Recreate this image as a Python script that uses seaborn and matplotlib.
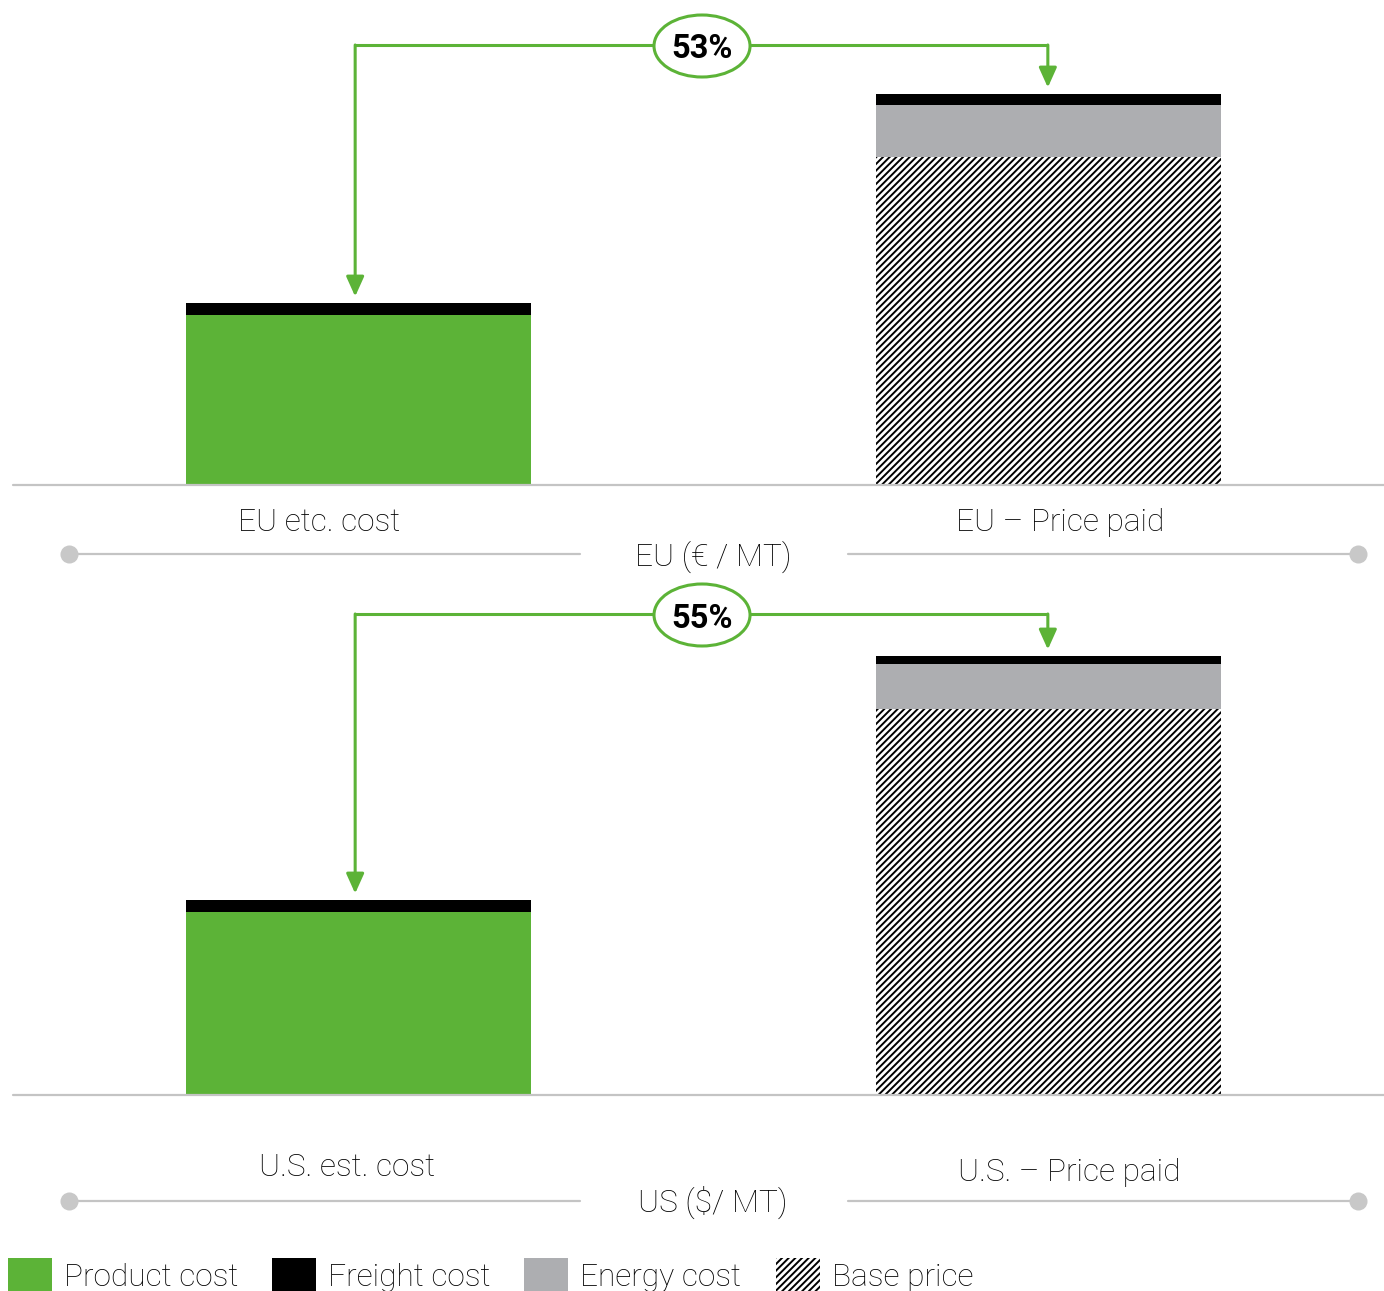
import matplotlib
matplotlib.use("Agg")
import matplotlib.pyplot as plt
import seaborn as sns
from matplotlib.patches import Ellipse, Rectangle

# ---------------- data ----------------
categories = ["cost", "price"]
eu_bar_labels = ["EU etc. cost", "EU – Price paid"]
us_bar_labels = ["U.S. est. cost", "U.S. – Price paid"]
# first value = product cost (cost bar), second = base price (price bar)
eu_base = [680, 1312]
eu_energy = [0, 208]
eu_freight = [48, 44]
us_base = [732, 1544]
us_energy = [0, 180]
us_freight = [48, 32]
pct_labels = ["53%", "55%"]
panel_titles = ["EU (€ / MT)", "US ($/ MT)"]
legend_labels = ["Product cost", "Freight cost", "Energy cost", "Base price"]

# ---------------- style ----------------
GREEN = "#5CB337"
GRAY = "#ADAEB1"
LINEGRAY = "#C4C4C4"
HATCH = "/////"
sns.set_theme(style="white")
plt.rcParams['font.family'] = ['Roboto', 'DejaVu Sans']
plt.rcParams['hatch.linewidth'] = 1.4

W, H, DPI = 1384, 1291, 100
fig = plt.figure(figsize=(W / DPI, H / DPI), dpi=DPI)
fig.patch.set_facecolor("white")

PXV = 4.0          # value units per pixel
AX_H = 485         # axes height in px
YMAX = AX_H * PXV


def fx(px):
    return px / W


def fy(px):
    return 1 - px / H


def draw_panel(base_px, base, energy, freight, pct, hline_px):
    ax = fig.add_axes([fx(13), fy(base_px), fx(1371), AX_H / H])
    mid = [b + e for b, e in zip(base, energy)]
    tot = [m + f for m, f in zip(mid, freight)]
    sns.barplot(x=categories, y=tot, color="black", width=0.5, saturation=1,
                linewidth=0, ax=ax)
    sns.barplot(x=categories, y=mid, color=GRAY, width=0.5, saturation=1,
                linewidth=0, ax=ax)
    sns.barplot(x=categories, y=base, color=GREEN, width=0.5, saturation=1,
                linewidth=0, ax=ax)
    hatched = ax.patches[-1]
    hatched.set_facecolor("white")
    hatched.set_edgecolor("black")
    hatched.set_hatch(HATCH)
    hatched.set_linewidth(0)
    ax.set_xlim(-0.5007, 1.4855)
    ax.set_ylim(0, YMAX)
    ax.set_axis_off()
    ax.axhline(0, color=LINEGRAY, lw=1.6, zorder=5, clip_on=False)

    # annotation
    y_h = (base_px - hline_px) * PXV
    xl, xr = -0.005, 0.9985
    gap = 26
    ax.plot([xl, xr], [y_h, y_h], color=GREEN, lw=2.2, solid_capstyle="butt",
            solid_joinstyle="miter", clip_on=False, zorder=6)
    for x, t in zip([xl, xr], tot):
        ax.annotate("", xy=(x, t + gap), xytext=(x, y_h),
                    arrowprops=dict(arrowstyle="-|>,head_length=1.0,head_width=0.45",
                                    color=GREEN, lw=2.2, shrinkA=0, shrinkB=0,
                                    mutation_scale=12),
                    annotation_clip=False, zorder=6)
    ell = Ellipse((0.4975, y_h - 4), width=96 / 690, height=62 * PXV,
                  facecolor="white", edgecolor=GREEN, lw=2.2, zorder=7,
                  clip_on=False)
    ax.add_patch(ell)
    ax.text(0.4975, y_h - 13.5 * PXV, pct, ha="center", va="baseline",
            fontsize=23.5, fontweight="bold", color="black", zorder=8)
    return ax


draw_panel(485, eu_base, eu_energy, eu_freight, pct_labels[0], 45)
draw_panel(1095, us_base, us_energy, us_freight, pct_labels[1], 614)

# overlay in pixel coordinates for labels, separators and legend
ov = fig.add_axes([0, 0, 1, 1], zorder=10)
ov.set_xlim(0, W)
ov.set_ylim(H, 0)
ov.set_axis_off()
ov.patch.set_alpha(0)

TXT = dict(fontsize=22.8, fontweight="light", color="black", va="baseline",
           ha="center")
ov.text(319, 531, eu_bar_labels[0], **TXT)
ov.text(1060, 531, eu_bar_labels[1], **TXT)
ov.text(713, 566, panel_titles[0], **TXT)
ov.text(347, 1176, us_bar_labels[0], **TXT)
ov.text(1069, 1181, us_bar_labels[1], **TXT)
ov.text(713, 1212, panel_titles[1], **TXT)

for y in (554, 1201):
    ov.plot([69, 580], [y, y], color=LINEGRAY, lw=1.6)
    ov.plot([848, 1358], [y, y], color=LINEGRAY, lw=1.6)
    ov.plot([69, 1358], [y, y], ls="none", marker="o", ms=13,
            color="#C8C8C8", mec="none")

# legend
leg_x = [8, 272, 524, 776]
leg_fc = [GREEN, "black", GRAY, "white"]
for x, fc, lab in zip(leg_x, leg_fc, legend_labels):
    r = Rectangle((x, 1258), 44, 44, facecolor=fc,
                  edgecolor="black" if fc == "white" else fc,
                  lw=0, hatch=HATCH if fc == "white" else None)
    ov.add_patch(r)
    ov.text(x + 56, 1286, lab, fontsize=22.8, fontweight="light",
            color="black", va="baseline", ha="left")

fig.savefig("out.png", dpi=DPI, facecolor="white")
